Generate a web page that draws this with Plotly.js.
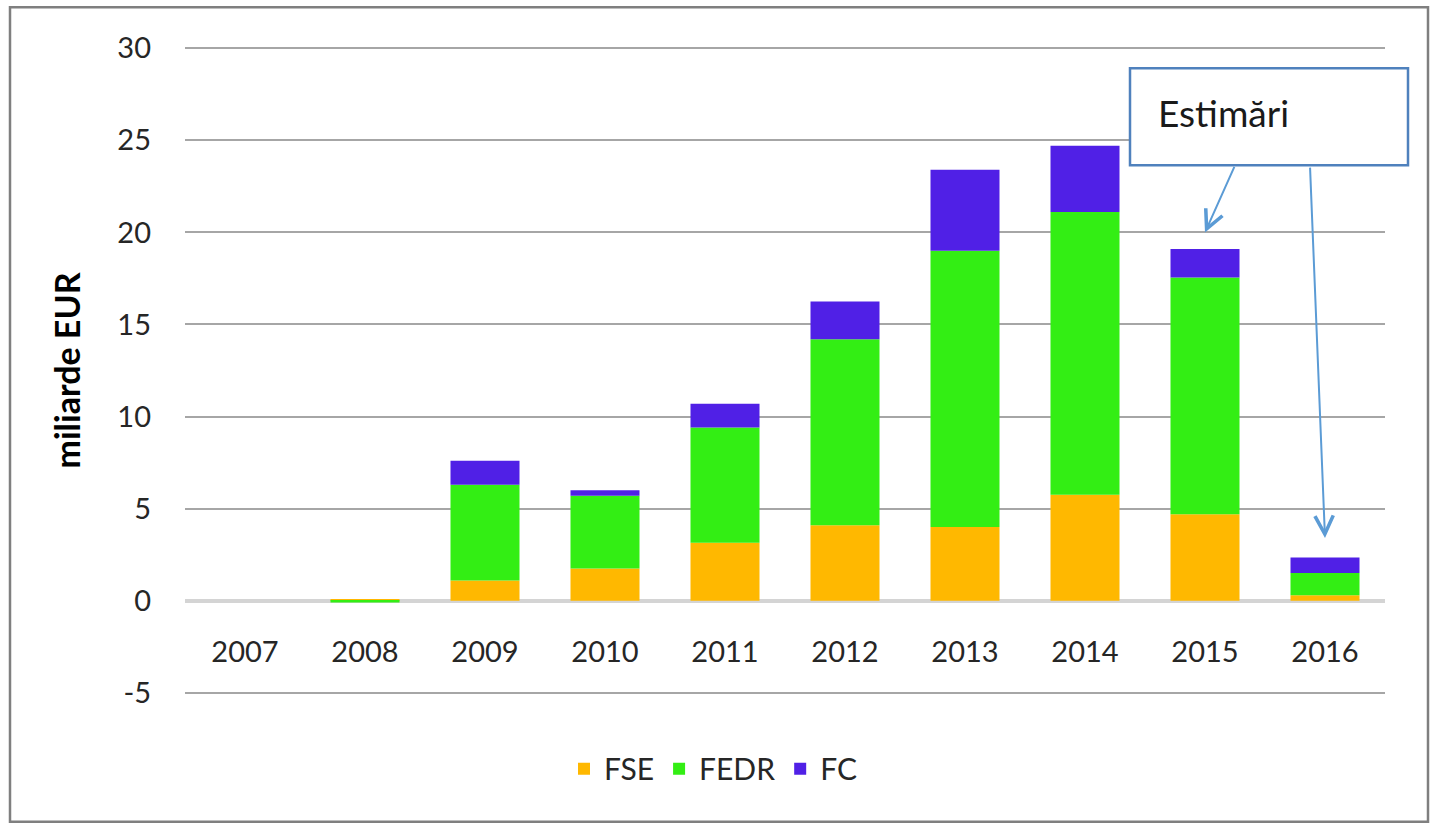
<!DOCTYPE html>
<html>
<head>
<meta charset="utf-8">
<script src="https://cdn.plot.ly/plotly-3.0.1.min.js"></script>
<style>
  html, body { margin: 0; padding: 0; background: #fff; }
  #chart { width: 1434px; height: 837px; }
</style>
</head>
<body>
<div id="chart"></div>
<script>
// years on the category axis
var years = ["2007", "2008", "2009", "2010", "2011", "2012", "2013", "2014", "2015", "2016"];

// values in billions EUR
var fse  = [0, 0.05, 1.1, 1.75, 3.15, 4.1, 4.0, 5.75, 4.7, 0.3];
var fedr = [0, -0.1, 5.2, 3.95, 6.25, 10.1, 15.0, 15.35, 12.85, 1.2];
var fc   = [0, 0, 1.3, 0.3, 1.3, 2.05, 4.4, 3.6, 1.55, 0.85];

var tickVals = [-5, 0, 5, 10, 15, 20, 25, 30];
var tickText = ["-5", "0", "5", "10", "15", "20", "25", "30"];

var font = "Lato, 'Open Sans', sans-serif";

var data = [
  { type: "bar", name: "FSE", x: years, y: fse, marker: { color: "#ffb800" } },
  { type: "bar", name: "FEDR", x: years, y: fedr, marker: { color: "#33ee14" } },
  { type: "bar", name: "FC", x: years, y: fc, marker: { color: "#5020e6" } }
];

// plot area is 185..1385 px wide, about 46..695 px tall
var plotTop = 45.8, plotBottom = 695.2;
function px(v) { return (v - 185) / 1200; }
function py(v) { return (plotBottom - v) / (plotBottom - plotTop); }

var layout = {
  width: 1434,
  height: 837,
  barmode: "relative",
  bargap: 0.425,
  margin: { l: 185, r: 49, t: plotTop, b: 837 - plotBottom },
  paper_bgcolor: "#fff",
  plot_bgcolor: "#fff",
  font: { family: font, size: 29, color: "#262626" },
  showlegend: true,
  legend: {
    orientation: "h",
    x: 0.44, xanchor: "center",
    y: py(769), yanchor: "middle",
    font: { size: 30, color: "#262626" },
    traceorder: "normal"
  },
  xaxis: {
    type: "category",
    range: [-0.5, 9.5],
    anchor: "free",
    position: py(600),
    showgrid: false,
    showline: false,
    ticks: "",
    ticklabelstandoff: 32,
    tickfont: { size: 29, color: "#262626" }
  },
  yaxis: {
    range: [-5.12, 30.12],
    tickvals: tickVals,
    ticktext: tickText,
    showgrid: true,
    gridcolor: "#a6a6a6",
    gridwidth: 1.5,
    zeroline: true,
    zerolinecolor: "#d4d4d4",
    zerolinewidth: 4,
    showline: false,
    ticks: "",
    ticklabelstandoff: 33,
    tickfont: { size: 29, color: "#262626" },
    title: { text: "<b>miliarde EUR</b>", font: { size: 34, color: "#000" }, standoff: 26 }
  },
  shapes: [
    // outer frame
    { type: "rect", xref: "paper", yref: "paper",
      x0: px(10), x1: px(1428), y0: py(822), y1: py(7),
      line: { color: "#7f7f7f", width: 2.5 }, fillcolor: "rgba(0,0,0,0)", layer: "below" },
    // callout box
    { type: "rect", xref: "paper", yref: "paper",
      x0: px(1130), x1: px(1408), y0: py(165), y1: py(68),
      line: { color: "#4f81bd", width: 2.5 }, fillcolor: "#fff" }
  ],
  annotations: [
    { xref: "paper", yref: "paper", x: px(1156), y: py(112),
      xanchor: "left", yanchor: "middle", showarrow: false,
      text: "Estimări", font: { size: 37, color: "#1a1a1a" } },
    // arrows point at the 2015 and 2016 bars (category index 8 and 9)
    { x: 8, y: 20, xref: "x", yref: "y", text: "",
      showarrow: true, arrowhead: 5, arrowsize: 1.8, arrowwidth: 2, arrowcolor: "#5b9bd5",
      ax: 30, ay: -67 },
    { x: 9, y: 3.4, xref: "x", yref: "y", text: "",
      showarrow: true, arrowhead: 5, arrowsize: 1.8, arrowwidth: 2, arrowcolor: "#5b9bd5",
      ax: -15, ay: -372 }
  ]
};

Plotly.newPlot("chart", data, layout, { displayModeBar: false });
</script>
</body>
</html>
